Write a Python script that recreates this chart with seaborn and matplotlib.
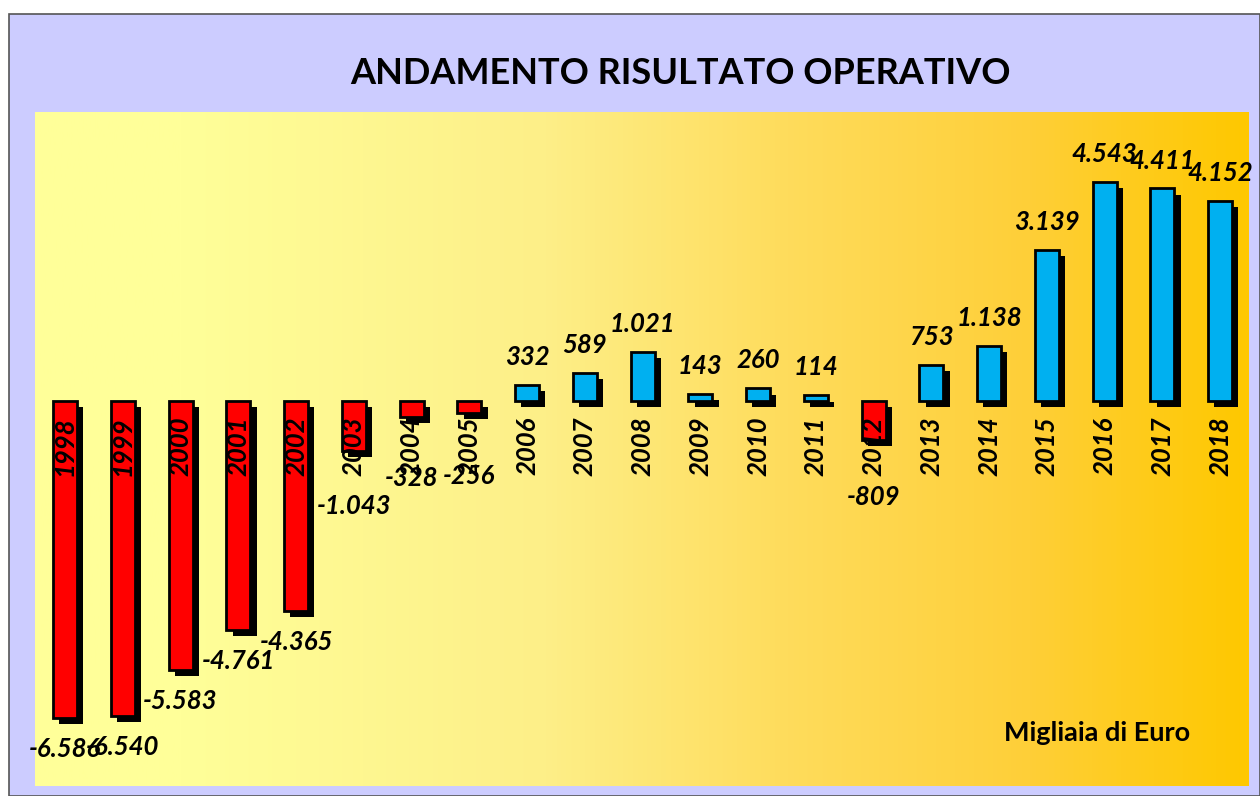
import numpy as np
import pandas as pd
import matplotlib
matplotlib.use("Agg")
import matplotlib.pyplot as plt
import matplotlib.patheffects as pe
from matplotlib.colors import LinearSegmentedColormap
from matplotlib.patches import Rectangle
import seaborn as sns

# ---- data ----
years = ["1998", "1999", "2000", "2001", "2002", "2003", "2004", "2005", "2006", "2007",
         "2008", "2009", "2010", "2011", "2012", "2013", "2014", "2015", "2016", "2017", "2018"]
values = [-6586, -6540, -5583, -4761, -4365, -1043, -328, -256, 332, 589,
          1021, 143, 260, 114, -809, 753, 1138, 3139, 4543, 4411, 4152]
value_labels = ["-6.586", "-6.540", "-5.583", "-4.761", "-4.365", "-1.043", "-328", "-256", "332", "589",
                "1.021", "143", "260", "114", "-809", "753", "1.138", "3.139", "4.543", "4.411", "4.152"]
title = "ANDAMENTO RISULTATO OPERATIVO"
unit_label = "Migliaia di Euro"

df = pd.DataFrame({"year": years, "value": values})
df["sign"] = np.where(df["value"] < 0, "neg", "pos")

sns.set_theme(style="white")
plt.rcParams["font.family"] = ["Lato", "DejaVu Sans"]

fig = plt.figure(figsize=(12.6, 7.96), dpi=100, facecolor="white")
# lavender chart area with border (behind the axes)
bg = Rectangle((9 / 1260, 0), 1 - 9 / 1260, (796 - 14) / 796,
               transform=fig.transFigure, facecolor="#ccccff",
               edgecolor="#555555", linewidth=1.2, zorder=-10)
fig.patches.append(bg)

ax = fig.add_axes([35 / 1260, 10 / 796, 1214 / 1260, 674 / 796])
ax.set_zorder(1)
ax.set_facecolor("none")

# gradient background
cmap = LinearSegmentedColormap.from_list(
    "grad", [(0.0, "#ffff99"), (0.12, "#ffff99"), (0.42, "#fdef88"),
             (0.62, "#ffdc5c"), (0.82, "#fecf38"), (1.0, "#ffc800")])
grad = np.linspace(0, 1, 512).reshape(1, -1)
ax.imshow(grad, cmap=cmap, aspect="auto", extent=[0, 1, 0, 1],
          transform=ax.transAxes, zorder=0)

sns.barplot(data=df, x="year", y="value", hue="sign",
            palette={"neg": "#ff0000", "pos": "#00b0f0"}, saturation=1,
            dodge=False, width=0.415, legend=False, ax=ax,
            edgecolor="black", linewidth=2, zorder=3)

shadow = [pe.SimplePatchShadow(offset=(4.5, -4.5), shadow_rgbFace="black", alpha=1.0),
          pe.Normal()]
for p in ax.patches:
    p.set_path_effects(shadow)

ax.set_xlim(-0.52, 20.5)
ax.set_ylim(-8000, 6000)
ax.set_xlabel("")
ax.set_ylabel("")
ax.set_xticks([])
ax.set_yticks([])
for s in ax.spines.values():
    s.set_visible(False)

lab_font = dict(fontsize=18.5, fontweight="bold", fontstyle="italic", color="black")
for i, (v, lab) in enumerate(zip(values, value_labels)):
    if v >= 0:
        y = v + 580
    elif v > -2000:
        y = 0.8 * v - 1350
    else:
        y = v - 650
    ax.text(i, y, lab, ha="center", va="center", zorder=6, **lab_font)
    ax.text(i, -330, years[i], rotation=90, ha="center", va="top", zorder=5, **lab_font)

fig.text(680 / 1260, 1 - 73 / 796, title, ha="center", va="center",
         fontsize=26, fontweight="bold", color="black")
fig.text(1097 / 1260, 1 - 733 / 796, unit_label, ha="center", va="center",
         fontsize=19.5, fontweight="bold", color="black")

fig.savefig("out.png", dpi=100, facecolor="white")
